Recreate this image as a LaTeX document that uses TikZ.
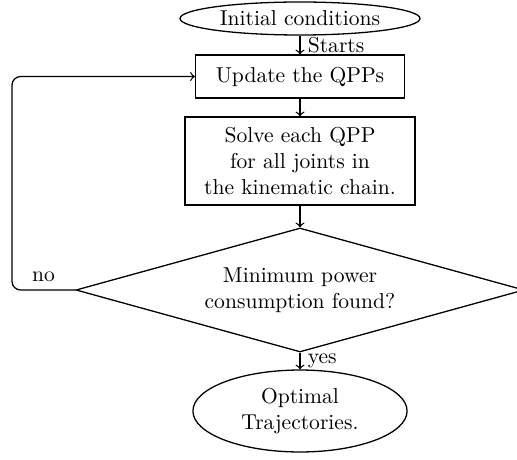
\documentclass[tikz,border=0pt]{standalone}
\usetikzlibrary{shapes.geometric}
\begin{document}
\begin{tikzpicture}[x=0.0163cm,y=0.0163cm,semithick,
  box/.style={draw, rectangle, align=center},
  oval/.style={draw, ellipse, inner sep=0pt, align=center},
  decision/.style={draw, diamond, aspect=3.6, inner sep=0pt, align=center},
  line/.style={draw, ->}]
\useasboundingbox (0,0) rectangle (517,459);
\node[oval, minimum width=111.3pt, minimum height=15.3pt] (init) at (300,440.5) {Initial conditions};
\node[box, minimum width=96.9pt, minimum height=19.9pt] (update) at (300,382.5) {Update the QPPs};
\node[box, minimum width=106.7pt, minimum height=40.8pt] (solve) at (300,298) {Solve each QPP\\for all joints in\\the kinematic chain.};
\node[decision, minimum width=207.8pt, minimum height=57.5pt] (decide) at (300,169) {Minimum power\\consumption found?};
\node[oval, minimum width=99.3pt, minimum height=38pt] (optimal) at (300,48) {Optimal\\Trajectories.};
\coordinate (bend) at (12,169);
\draw[line] (init) -- node[right] {Starts} (update);
\draw[line] (update) -- (solve);
\draw[line] (solve) -- (decide);
\draw[line] (decide) -- node[right] {yes} (optimal);
\draw[line, rounded corners] (decide.west) -- node[above] {no} (bend) |- (update.west);
\end{tikzpicture}
\end{document}
